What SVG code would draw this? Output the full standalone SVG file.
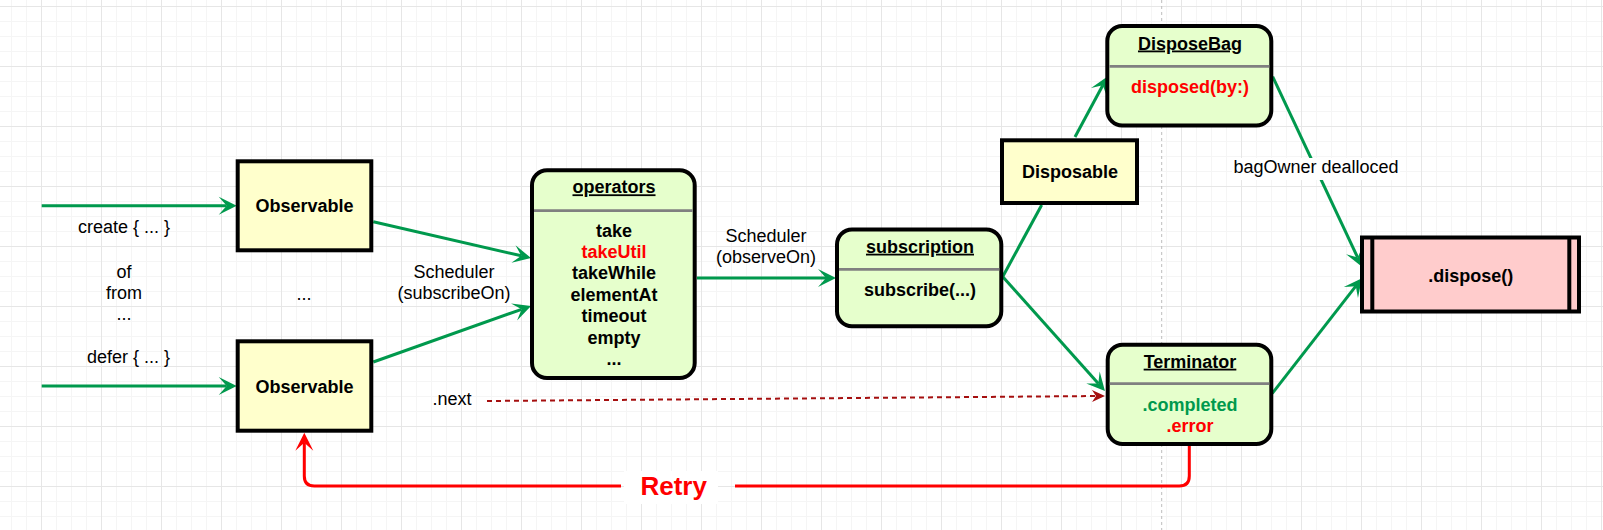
<svg xmlns="http://www.w3.org/2000/svg" width="1603" height="530" viewBox="0 0 1603 530">
  <style>
    text { font-family: "Liberation Sans", Arial, Helvetica, sans-serif; font-size: 18px; fill: #000; }
    .b { font-weight: bold; text-anchor: middle; }
    .m { text-anchor: middle; }
    .u { text-decoration: underline; }
    .red { fill: #FF0000; }
    .grn { fill: #00994D; }
    .box { stroke: #000; stroke-width: 4; }
    .yel { fill: #FFFFCC; }
    .lg { fill: #E6FFCC; }
    .pink { fill: #FFCCCC; }
    .div { stroke: #808080; stroke-width: 2.7; }
    .edge { fill: none; stroke: #00994D; stroke-width: 3; }
  </style>
  <defs>
    <pattern id="grid" x="41" y="6" width="60" height="60" patternUnits="userSpaceOnUse">
      <path d="M15.5,0 V60 M30.5,0 V60 M45.5,0 V60 M0,15.5 H60 M0,30.5 H60 M0,45.5 H60" stroke="#f5f5f5" stroke-width="1" fill="none"/>
      <path d="M0.5,0 V60 M0,0.5 H60" stroke="#e6e6e6" stroke-width="1" fill="none"/>
    </pattern>
    <marker id="ag" markerUnits="userSpaceOnUse" viewBox="-12 -12 24 24" markerWidth="24" markerHeight="24" refX="0" refY="0" orient="auto" overflow="visible">
      <path d="M10,0 L-8,-9 L0,0 L-8,9 Z" fill="#00994D"/>
    </marker>
    <marker id="ar" markerUnits="userSpaceOnUse" viewBox="-12 -12 24 24" markerWidth="24" markerHeight="24" refX="0" refY="0" orient="auto" overflow="visible">
      <path d="M10,0 L-8,-9 L0,0 L-8,9 Z" fill="#FF0000"/>
    </marker>
    <marker id="ad" markerUnits="userSpaceOnUse" viewBox="-12 -12 24 24" markerWidth="24" markerHeight="24" refX="0" refY="0" orient="auto" overflow="visible">
      <path d="M7,0 L-6,-6 L-2,0 L-6,6 Z" fill="#A50F0F"/>
    </marker>
  </defs>

  <rect x="0" y="0" width="1603" height="530" fill="#ffffff"/>
  <rect x="0" y="0" width="1603" height="530" fill="url(#grid)"/>
  <line x1="1161.7" y1="0" x2="1161.7" y2="530" stroke="#bdbdbd" stroke-width="1" stroke-dasharray="3 3"/>

  <g id="connectors">
    <path class="edge" d="M41.7,205.7 L226.7,205.7" marker-end="url(#ag)"/>
    <path class="edge" d="M41.7,386 L226.7,386" marker-end="url(#ag)"/>
    <path class="edge" d="M373.3,221.7 L521.3,255.8" marker-end="url(#ag)"/>
    <path class="edge" d="M373.3,362 L521.6,309.3" marker-end="url(#ag)"/>
    <path class="edge" d="M697,278 L826,278" marker-end="url(#ag)"/>
    <path class="edge" d="M1002.7,276.7 L1041.7,205"/>
    <path class="edge" d="M1075,137 L1102.8,85.3" marker-end="url(#ag)"/>
    <path class="edge" d="M1003,277 L1098.3,383.5" marker-end="url(#ag)"/>
    <path class="edge" d="M1272.7,76.7 L1357.7,257.6" marker-end="url(#ag)"/>
    <path class="edge" d="M1272.3,393.3 L1355.8,286.2" marker-end="url(#ag)"/>
    <path d="M487,401 L1098,396" fill="none" stroke="#A50F0F" stroke-width="2" stroke-dasharray="5 4" marker-end="url(#ad)"/>
    <path d="M1189.3,446 L1189.3,476 Q1189.3,486 1179.3,486 L735,486 M621,486 L314.3,486 Q304.3,486 304.3,476 L304.3,442.7" fill="none" stroke="#FF0000" stroke-width="3" marker-end="url(#ar)"/>
    <rect x="1232" y="158" width="168" height="22" fill="#ffffff"/>
    <text x="1316" y="173.3" class="m">bagOwner dealloced</text>
    <rect x="624" y="471" width="94" height="33" fill="#ffffff"/>
    <text x="673.7" y="495" class="b red" style="font-size:26px">Retry</text>
    <text x="170" y="233.3" text-anchor="end">create { ... }</text>
    <text x="124" y="277.7" class="m">of</text>
    <text x="124" y="299" class="m">from</text>
    <text x="124" y="320" class="m">...</text>
    <text x="170" y="362.7" text-anchor="end">defer { ... }</text>
    <text x="304" y="300" class="m">...</text>
    <text x="454" y="278" class="m">Scheduler</text>
    <text x="454" y="299.3" class="m">(subscribeOn)</text>
    <text x="766" y="241.7" class="m">Scheduler</text>
    <text x="766" y="262.7" class="m">(observeOn)</text>
    <text x="452" y="405" class="m">.next</text>
  </g>

  <g id="observable1">
    <rect class="box yel" x="237.7" y="161.3" width="133.6" height="89"/>
    <text x="304.5" y="212.3" class="b">Observable</text>
  </g>
  <g id="observable2">
    <rect class="box yel" x="237.7" y="341.3" width="133.6" height="89.4"/>
    <text x="304.5" y="392.5" class="b">Observable</text>
  </g>
  <g id="operators">
    <rect class="box lg" x="532" y="170.3" width="162.7" height="207.7" rx="15"/>
    <line class="div" x1="534" y1="210.7" x2="692.7" y2="210.7"/>
    <text x="614" y="193.3" class="b u">operators</text>
    <text x="614" y="236.7" class="b">take</text>
    <text x="614" y="257.9" class="b red">takeUtil</text>
    <text x="614" y="279.2" class="b">takeWhile</text>
    <text x="614" y="300.6" class="b">elementAt</text>
    <text x="614" y="322.1" class="b">timeout</text>
    <text x="614" y="343.5" class="b">empty</text>
    <text x="614" y="365" class="b">...</text>
  </g>
  <g id="subscription">
    <rect class="box lg" x="837" y="229.5" width="164.3" height="96.8" rx="15"/>
    <line class="div" x1="839" y1="269.3" x2="999.3" y2="269.3"/>
    <text x="920" y="252.7" class="b u">subscription</text>
    <text x="920" y="296" class="b">subscribe(...)</text>
  </g>
  <g id="disposable">
    <rect class="box yel" x="1002" y="140.3" width="135" height="62.7"/>
    <text x="1070" y="178.3" class="b">Disposable</text>
  </g>
  <g id="disposebag">
    <rect class="box lg" x="1107.3" y="26" width="164" height="99.5" rx="15"/>
    <line class="div" x1="1109.3" y1="66.3" x2="1269.3" y2="66.3"/>
    <text x="1190" y="49.5" class="b u">DisposeBag</text>
    <text x="1190" y="92.7" class="b red">disposed(by:)</text>
  </g>
  <g id="terminator">
    <rect class="box lg" x="1107.7" y="344.7" width="163.6" height="99.3" rx="15"/>
    <line class="div" x1="1109.7" y1="383.7" x2="1269.3" y2="383.7"/>
    <text x="1190" y="367.7" class="b u">Terminator</text>
    <text x="1190" y="410.7" class="b grn">.completed</text>
    <text x="1190" y="431.7" class="b red">.error</text>
  </g>
  <g id="dispose">
    <rect class="box pink" x="1362" y="237.5" width="217" height="74"/>
    <line x1="1372.3" y1="237.5" x2="1372.3" y2="311.5" stroke="#000" stroke-width="4"/>
    <line x1="1569.3" y1="237.5" x2="1569.3" y2="311.5" stroke="#000" stroke-width="4"/>
    <text x="1470.7" y="281.7" class="b">.dispose()</text>
  </g>
</svg>
